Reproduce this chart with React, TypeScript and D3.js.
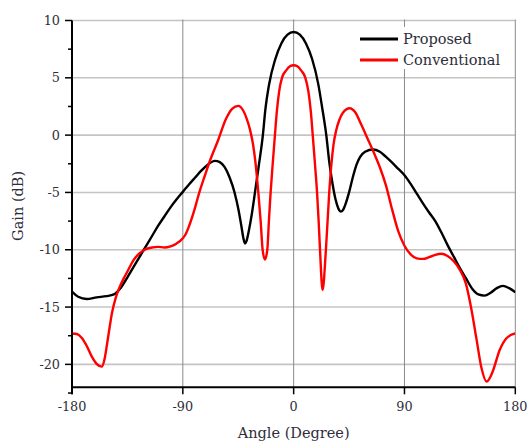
import React from "react";
import * as d3 from "d3";

const proposedAngle = [-180, -175, -168, -160, -152, -146, -141, -135, -130, -125, -120, -115, -110, -105, -100, -95, -90, -85, -80, -75, -70, -64, -60, -56, -52, -48, -45, -42.5, -40.8, -39.5, -38.3, -36.5, -34, -31.4, -28.5, -25, -23, -20, -15, -10, -5, 0, 5, 10, 15, 20, 23, 26.5, 29, 31.5, 34, 36.3, 38.4, 40.5, 42.5, 45, 48, 51, 54, 58, 64.6, 70, 75, 80, 85, 90, 95, 100, 105, 110, 115, 120, 125, 130, 135, 140, 145, 150, 155, 160, 165, 170, 175, 180];
const proposedGain = [-13.65, -14.1, -14.3, -14.15, -14.05, -13.9, -13.4, -12.4, -11.5, -10.6, -9.7, -8.8, -7.9, -7.1, -6.3, -5.6, -4.95, -4.3, -3.7, -3.1, -2.6, -2.25, -2.35, -2.8, -3.7, -5.0, -6.4, -7.9, -9.0, -9.45, -9.25, -8.4, -6.9, -5.0, -2.8, 0, 2.2, 4.4, 6.6, 8.0, 8.76, 9.0, 8.76, 8.0, 6.64, 4.45, 2.5, 0, -2.4, -4.2, -5.6, -6.4, -6.67, -6.45, -5.9, -5.0, -3.7, -2.6, -1.9, -1.45, -1.25, -1.45, -1.9, -2.4, -2.95, -3.5, -4.25, -5.1, -5.95, -6.75, -7.5, -8.5, -9.6, -10.6, -11.6, -12.5, -13.4, -13.9, -14.0, -13.75, -13.35, -13.15, -13.35, -13.7];

const conventionalAngle = [-180, -176, -172, -168, -164, -160, -156, -153.5, -151.5, -149.5, -147.5, -144.5, -141.5, -138, -135, -130, -125, -120, -115, -110, -105, -100, -95, -90, -87.5, -85, -80, -76.6, -72, -68.2, -61.2, -55, -50, -45, -41, -38, -35.5, -33, -31, -28.7, -26.8, -25.2, -23.3, -21.4, -20.1, -18.7, -17, -15.2, -13.7, -11.8, -9.5, -6, -3, 0, 3, 6, 9.5, 12, 14, 15.5, 17.3, 19, 20.3, 21.4, 23.5, 26.2, 28.9, 30.6, 32.4, 34.5, 37, 40, 45.5, 50, 55, 60, 65, 70, 75, 80, 85, 90, 95, 100, 105, 110, 115, 120, 125, 130, 135, 140, 144, 148.5, 152.5, 156.7, 161, 167.5, 173, 180];
const conventionalGain = [-17.3, -17.35, -17.7, -18.4, -19.3, -19.95, -20.2, -19.5, -18.2, -16.8, -15.5, -14.2, -13.3, -12.5, -11.9, -10.9, -10.3, -9.95, -9.8, -9.75, -9.8, -9.7, -9.45, -9.0, -8.6, -7.95, -6.3, -5.0, -3.5, -2.3, -0.4, 1.4, 2.3, 2.55, 2.15, 1.4, 0.5, -0.8, -2.4, -5.0, -7.5, -10.0, -10.85, -10.0, -7.5, -5.0, -2.5, 0, 2.0, 3.8, 5.0, 5.65, 6.0, 6.1, 6.0, 5.65, 5.0, 3.8, 2.0, 0, -2.5, -5.0, -7.5, -10.0, -13.5, -10.0, -5.0, -2.6, -0.8, 0.4, 1.3, 1.95, 2.35, 2.0, 0.9, -0.3, -1.5, -2.8, -4.4, -6.5, -8.4, -9.65, -10.4, -10.75, -10.8, -10.65, -10.45, -10.35, -10.55, -11.0, -11.75, -13.0, -15.0, -17.8, -20.3, -21.5, -20.8, -18.7, -17.7, -17.3];

const xTicks = [-180, -90, 0, 90, 180];
const yTicks = [-20, -15, -10, -5, 0, 5, 10];
const yMinorTicks = [-22.5, -17.5, -12.5, -7.5, -2.5, 2.5, 7.5];
const seriesNames = ["Proposed", "Conventional"];
const seriesColors = ["#000000", "#ff0000"];

const FONT = "'DejaVu Serif', serif";
const TEXT = "#2e2e3a";

export default function App() {
  const x = d3.scaleLinear().domain([-180, 180]).range([72, 515.3]);
  const y = d3.scaleLinear().domain([-22, 10]).range([387.3, 20.5]);
  const line = d3
    .line<[number, number]>()
    .x((d) => x(d[0]))
    .y((d) => y(d[1]))
    .curve(d3.curveMonotoneX);
  const series = [
    d3.zip(proposedAngle, proposedGain) as [number, number][],
    d3.zip(conventionalAngle, conventionalGain) as [number, number][],
  ];
  const [x0, x1] = x.range();
  const [yb, yt] = y.range();

  return (
    <svg
      width={528}
      height={444}
      style={{ position: "absolute", left: 0, top: 0, background: "#fff" }}
    >
      <defs>
        <clipPath id="plot">
          <rect x={x0} y={yt - 2} width={x1 - x0} height={yb - yt + 2} />
        </clipPath>
      </defs>
      {yTicks.map((t) => (
        <line key={"hg" + t} x1={x0} x2={x1} y1={y(t)} y2={y(t)} stroke="#c4c4c4" strokeWidth={1.6} />
      ))}
      {xTicks.filter((t) => t > -180).map((t) => (
        <line key={"vg" + t} x1={x(t)} x2={x(t)} y1={yt - 1} y2={yb} stroke="#8a8a8a" strokeWidth={1} />
      ))}
      <g clipPath="url(#plot)">
        {series.map((s, i) => (
          <path key={i} d={line(s) || ""} fill="none" stroke={seriesColors[i]} strokeWidth={2.4} strokeLinejoin="round" />
        ))}
      </g>
      <line x1={x0} x2={x0} y1={yt} y2={yb + 7} stroke="#000" strokeWidth={2} />
      <line x1={x0 - 1} x2={x1} y1={yb} y2={yb} stroke="#000" strokeWidth={2} />
      {yTicks.map((t) => (
        <g key={"yt" + t}>
          <line x1={x0 - 7} x2={x0} y1={y(t)} y2={y(t)} stroke="#000" strokeWidth={1.5} />
          <text x={60} y={y(t) + 4.5} textAnchor="end" fontFamily={FONT} fontSize={12.8} fill={TEXT}>
            {t}
          </text>
        </g>
      ))}
      {yMinorTicks.map((t) => (
        <line key={"ym" + t} x1={x0 - 4} x2={x0} y1={y(t)} y2={y(t)} stroke="#000" strokeWidth={1.5} />
      ))}
      {xTicks.map((t) => (
        <g key={"xt" + t}>
          <line x1={x(t)} x2={x(t)} y1={yb} y2={yb + 7} stroke="#000" strokeWidth={1.5} />
          <text x={x(t)} y={411} textAnchor="middle" fontFamily={FONT} fontSize={12.8} fill={TEXT}>
            {t}
          </text>
        </g>
      ))}
      <text x={(x0 + x1) / 2} y={438} textAnchor="middle" fontFamily={FONT} fontSize={14.5} fill={TEXT}>
        Angle (Degree)
      </text>
      <text
        transform={`translate(22.5, ${(yt + yb) / 2 + 2}) rotate(-90)`}
        textAnchor="middle"
        fontFamily={FONT}
        fontSize={14.5}
        fill={TEXT}
      >
        Gain (dB)
      </text>
      <rect x={356} y={27} width={156} height={42} fill="#fff" />
      {seriesNames.map((n, i) => (
        <g key={n}>
          <line x1={360} x2={398} y1={39 + i * 21} y2={39 + i * 21} stroke={seriesColors[i]} strokeWidth={3} />
          <text x={403} y={44 + i * 21} fontFamily={FONT} fontSize={14.5} fill={TEXT}>
            {n}
          </text>
        </g>
      ))}
    </svg>
  );
}
